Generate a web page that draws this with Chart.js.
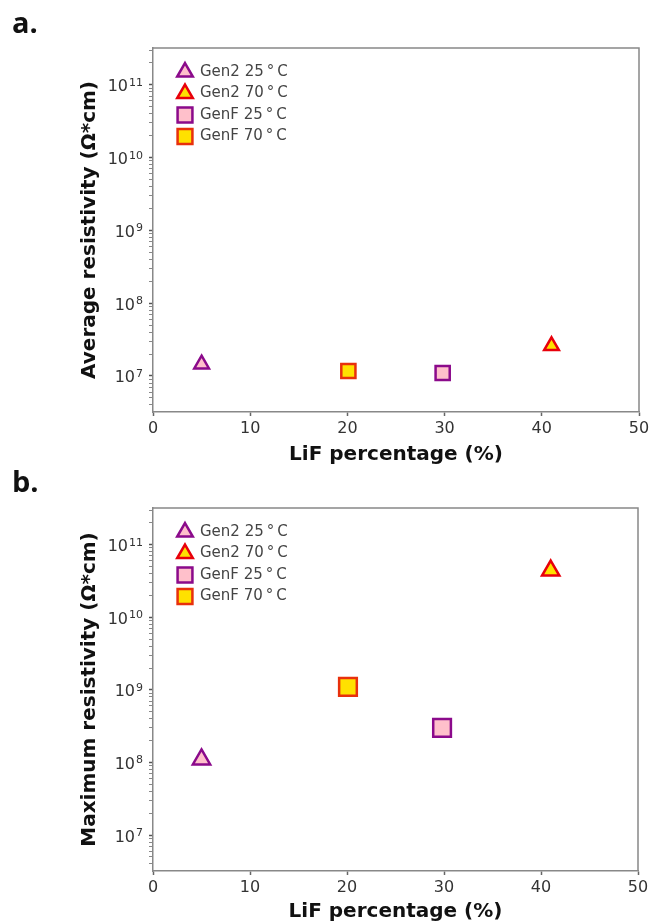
<!DOCTYPE html>
<html>
<head>
<meta charset="utf-8">
<script src="https://cdn.jsdelivr.net/npm/chart.js@4.4.1/dist/chart.umd.min.js"></script>
<style>
  html, body { margin: 0; padding: 0; background: #fff; }
  body { width: 653px; height: 922px; position: relative; overflow: hidden; }
  canvas { position: absolute; left: 0; }
  #chartA { top: 0; }
  #chartB { top: 470px; }
</style>
</head>
<body>
<canvas id="chartA" width="653" height="470"></canvas>
<canvas id="chartB" width="653" height="452"></canvas>
<script>
// === Data ===
const seriesNames = ["Gen2 25\u2009°\u2009C", "Gen2 70\u2009°\u2009C", "GenF 25\u2009°\u2009C", "GenF 70\u2009°\u2009C"];
const lifPercent = [5, 41, 29.8, 20.1];
const avgResistivity = [1.45e7, 2.6e7, 1.1e7, 1.17e7];
const maxResistivity = [1.1e8, 4.4e10, 3.0e8, 1.1e9];
const xTicks = [0, 10, 20, 30, 40, 50];
const yMajorTicks = [1e7, 1e8, 1e9, 1e10, 1e11];
const yTickBase = "10";
const yTickExponents = ["7", "8", "9", "10", "11"];
const yMin = 3.2e6, yMax = 3.2e11;

// === Styles ===
const markerShapes = ["triangle", "triangle", "rect", "rect"];
const markerFills = ["#ffc0cb", "#ffe100", "#ffc0cb", "#ffe100"];
const markerEdges = ["#8b0a8b", "#e8000b", "#8b0a8b", "#e8300c"];
const FONT = "'DejaVu Sans', sans-serif";

// minor log ticks (k x 10^n) inside the axis range
const yAllTicks = [];
for (let e = 6; e <= 11; e++) {
  for (let k = 1; k <= 9; k++) {
    const v = k * Math.pow(10, e);
    if (v >= yMin && v <= yMax) yAllTicks.push(v);
  }
}

// frame around plot, y tick labels with superscripts, in-plot legend, panel letter
const panelPlugin = {
  id: "panel",
  beforeDatasetsDraw(chart) {
    const { ctx, chartArea: a } = chart;
    ctx.save();
    ctx.strokeStyle = "#888";
    ctx.lineWidth = 1.5;
    ctx.beginPath();
    ctx.moveTo(a.left, a.top);
    ctx.lineTo(a.right, a.top);
    ctx.lineTo(a.right, a.bottom);
    ctx.stroke();
    ctx.restore();
  },
  afterDraw(chart, args, opts) {
    const { ctx, chartArea: a } = chart;
    const yScale = chart.scales.y;
    ctx.save();

    // y tick labels: 10 + raised exponent
    ctx.fillStyle = "#333";
    ctx.textBaseline = "alphabetic";
    ctx.textAlign = "left";
    yMajorTicks.forEach((v, i) => {
      const py = yScale.getPixelForValue(v);
      ctx.font = "11px " + FONT;
      const expW = ctx.measureText(yTickExponents[i]).width;
      ctx.font = "16px " + FONT;
      const baseW = ctx.measureText(yTickBase).width;
      const right = a.left - 10;
      ctx.fillText(yTickBase, right - expW - 1 - baseW, py + 6.5);
      ctx.font = "11px " + FONT;
      ctx.fillText(yTickExponents[i], right - expW, py + 1);
    });

    // legend
    chart.data.datasets.forEach((ds, i) => {
      const x = a.left + 32, y = a.top + 24 + i * 21.5;
      ctx.fillStyle = ds.backgroundColor;
      ctx.strokeStyle = ds.borderColor;
      ctx.lineWidth = 2.5;
      Chart.helpers.drawPoint(ctx, {
        pointStyle: ds.pointStyle,
        radius: ds.pointStyle === "rect" ? 10.5 : 9,
        rotation: 0,
        borderWidth: 2.5
      }, x, y);
      ctx.fillStyle = "#444";
      ctx.font = "15px " + FONT;
      ctx.textBaseline = "middle";
      ctx.fillText(ds.label, a.left + 47, y);
    });

    ctx.fillStyle = "#111";
    ctx.font = "bold 29px 'Open Sans', sans-serif";
    ctx.textBaseline = "alphabetic";
    ctx.fillText(opts.letter, 12, opts.letterY);
    ctx.restore();
  }
};

function makeChart(canvasId, values, yTitle, cfg) {
  const datasets = seriesNames.map((name, i) => ({
    label: name,
    data: [{ x: lifPercent[i], y: values[i] }],
    pointStyle: markerShapes[i],
    backgroundColor: markerFills[i],
    borderColor: markerEdges[i],
    borderWidth: 2.5,
    pointRadius: markerShapes[i] === "rect" ? cfg.rectR : cfg.triR,
    pointHoverRadius: markerShapes[i] === "rect" ? cfg.rectR : cfg.triR
  }));

  return new Chart(document.getElementById(canvasId).getContext("2d"), {
    type: "scatter",
    data: { datasets },
    options: {
      responsive: false,
      animation: false,
      layout: { padding: { left: 78, right: 14, top: cfg.top, bottom: cfg.bottom } },
      plugins: {
        legend: { display: false },
        tooltip: { enabled: false },
        panel: { letter: cfg.letter, letterY: cfg.letterY }
      },
      scales: {
        x: {
          type: "linear",
          min: 0,
          max: 50,
          afterBuildTicks: axis => { axis.ticks = xTicks.map(v => ({ value: v })); },
          afterFit: axis => { axis.height = cfg.xHeight; },
          border: { display: true, color: "#888", width: 1.5 },
          grid: { drawOnChartArea: false, drawTicks: true, tickLength: 4, tickColor: "#666", tickWidth: 1.5 },
          ticks: { font: { family: FONT, size: 16 }, color: "#333", padding: 3 },
          title: {
            display: true,
            text: "LiF percentage (%)",
            font: { family: FONT, size: 20, weight: "bold", lineHeight: 1 },
            color: "#111",
            padding: { top: 0, bottom: 0 }
          }
        },
        y: {
          type: "logarithmic",
          min: yMin,
          max: yMax,
          afterBuildTicks: axis => { axis.ticks = yAllTicks.map(v => ({ value: v })); },
          afterFit: axis => { axis.width = 75; },
          border: { display: true, color: "#888", width: 1.5 },
          grid: {
            drawOnChartArea: false,
            drawTicks: true,
            tickLength: 4,
            tickColor: c => yMajorTicks.includes(c.tick && c.tick.value) ? "#555" : "#888",
            tickWidth: c => yMajorTicks.includes(c.tick && c.tick.value) ? 1.5 : 1
          },
          ticks: {
            autoSkip: false,
            font: { family: FONT, size: 16 },
            color: "#333",
            padding: 3,
            callback: () => ""
          },
          title: {
            display: true,
            text: yTitle,
            font: { family: FONT, size: 20, weight: "bold", lineHeight: 1 },
            color: "#111",
            padding: { top: 2, bottom: 0 }
          }
        }
      }
    },
    plugins: [panelPlugin]
  });
}

makeChart("chartA", avgResistivity, "Average resistivity (Ω*cm)",
  { top: 48, bottom: 5, xHeight: 53, triR: 8.5, rectR: 10, letter: "a.", letterY: 33 });
makeChart("chartB", maxResistivity, "Maximum resistivity (Ω*cm)",
  { top: 38, bottom: 0, xHeight: 51, triR: 10, rectR: 12.5, letter: "b.", letterY: 22 });
</script>
</body>
</html>
